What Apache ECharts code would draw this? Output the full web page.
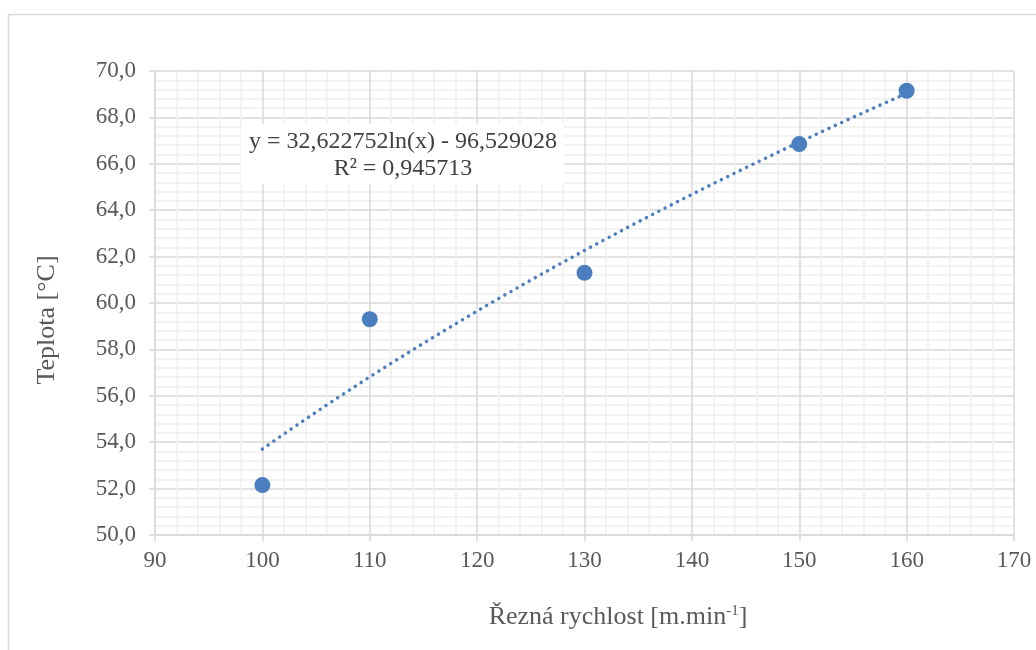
<!DOCTYPE html>
<html>
<head>
<meta charset="utf-8">
<script src="https://cdn.jsdelivr.net/npm/echarts@6/dist/echarts.min.js"></script>
<style>
  html, body { margin: 0; padding: 0; background: #fff; }
  #chart { width: 1036px; height: 650px; }
</style>
</head>
<body>
<div id="chart"></div>
<script>
// Measured cutting speed vs. temperature
const speeds = [100, 110, 130, 150, 160];
const temperatures = [52.15, 59.3, 61.3, 66.85, 69.15];

// Logarithmic trend: y = a*ln(x) + b
const trendA = 32.622752;
const trendB = -96.529028;
const trendR2 = '0,945713';
const trendStart = 100;
const trendEnd = 160;

const xTicks = { min: 90, max: 170, interval: 10 };
const yTicks = { min: 50, max: 70, interval: 2 };

const xTitle = '{a|Řezná rychlost [m.min}{s|-1}{a|]}';
const yTitle = 'Teplota [°C]';

const trendPoints = [];
for (let x = trendStart; x <= trendEnd; x += 1) {
  trendPoints.push([x, trendA * Math.log(x) + trendB]);
}

const fmt = (v, d) => v.toFixed(d).replace('.', ',');
const eqText = 'y = ' + fmt(trendA, 6) + 'ln(x) - ' + fmt(-trendB, 6) + '\nR² = ' + trendR2;

const serif = '"Liberation Serif", "Times New Roman", serif';
const textGray = '#595959';
const gridMajor = '#d9d9d9';
const gridMinor = '#f0f0f0';
const markColor = '#4a7ebf';

const chart = echarts.init(document.getElementById('chart'), null, { renderer: 'canvas' });
chart.setOption({
  animation: false,
  backgroundColor: '#ffffff',
  grid: { left: 155, right: 22, top: 71, bottom: 115 },
  xAxis: {
    type: 'value',
    min: xTicks.min, max: xTicks.max, interval: xTicks.interval,
    axisLine: { show: true, onZero: false, lineStyle: { color: gridMajor, width: 1.5 } },
    axisTick: { show: true, length: 6, lineStyle: { color: gridMajor, width: 1.5 } },
    axisLabel: { fontFamily: serif, fontSize: 23, color: textGray, margin: 14 },
    splitLine: { show: true, lineStyle: { color: gridMajor, width: 1.5 } },
    minorTick: { show: false, splitNumber: 5 },
    minorSplitLine: { show: true, lineStyle: { color: gridMinor, width: 1.5 } }
  },
  yAxis: {
    type: 'value',
    min: yTicks.min, max: yTicks.max, interval: yTicks.interval,
    axisLine: { show: true, lineStyle: { color: gridMajor, width: 1.5 } },
    axisTick: { show: true, length: 6, lineStyle: { color: gridMajor, width: 1.5 } },
    axisLabel: {
      fontFamily: serif, fontSize: 23, color: textGray, margin: 19,
      formatter: v => fmt(v, 1)
    },
    splitLine: { show: true, lineStyle: { color: gridMajor, width: 1.5 } },
    minorTick: { show: false, splitNumber: 5 },
    minorSplitLine: { show: true, lineStyle: { color: gridMinor, width: 1.5 } }
  },
  graphic: [
    {
      type: 'rect', silent: true, z: -10,
      shape: { x: 8.5, y: 14.5, width: 1040, height: 650 },
      style: { fill: 'none', stroke: gridMajor, lineWidth: 1.5 }
    },
    {
      type: 'rect', silent: true, z: 50,
      shape: { x: 241, y: 124, width: 323, height: 60 },
      style: { fill: '#ffffff' }
    },
    {
      type: 'text', silent: true, z: 51,
      x: 403, y: 155,
      style: {
        text: eqText,
        font: '24px ' + serif,
        fill: '#404040',
        align: 'center',
        verticalAlign: 'middle',
        lineHeight: 27
      }
    },
    {
      // x axis title with superscript exponent
      type: 'text', silent: true, z: 51,
      x: 618, y: 617,
      style: {
        text: xTitle,
        align: 'center',
        verticalAlign: 'middle',
        rich: {
          a: { fontFamily: serif, fontSize: 26, fill: textGray },
          s: { fontFamily: serif, fontSize: 15, fill: textGray, verticalAlign: 'top', padding: [0, 0, 12, 0] }
        }
      }
    },
    {
      // y axis title, rotated
      type: 'text', silent: true, z: 51,
      x: 47, y: 320,
      rotation: Math.PI / 2,
      style: {
        text: yTitle,
        font: '26px ' + serif,
        fill: textGray,
        align: 'center',
        verticalAlign: 'middle'
      }
    }
  ],
  series: [
    {
      name: 'Trend',
      type: 'line',
      data: trendPoints,
      showSymbol: false,
      smooth: false,
      z: 3,
      lineStyle: { color: markColor, width: 3.5, type: [0.01, 7], cap: 'round' }
    },
    {
      name: 'Teplota',
      type: 'scatter',
      data: speeds.map((s, i) => [s, temperatures[i]]),
      symbol: 'circle',
      symbolSize: 16,
      z: 4,
      itemStyle: { color: markColor, opacity: 1 }
    }
  ]
});
</script>
</body>
</html>
